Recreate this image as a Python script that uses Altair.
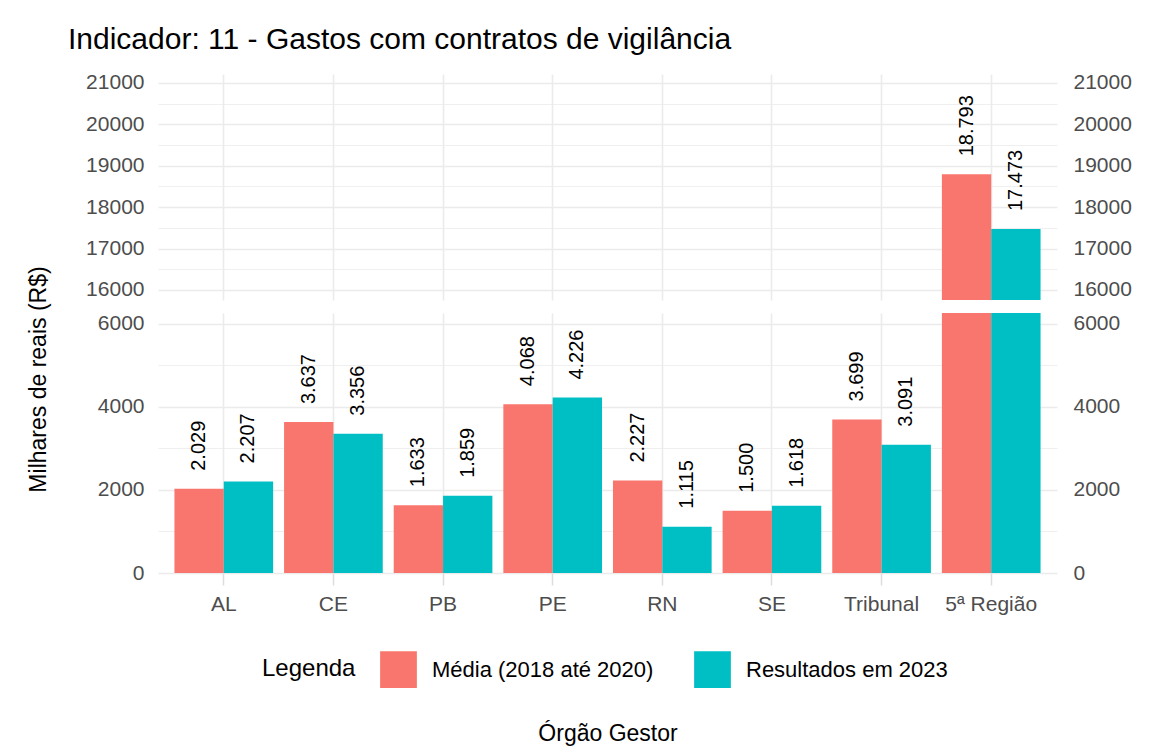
import altair as alt
import pandas as pd

# ---- data ----
categories = ["AL", "CE", "PB", "PE", "RN", "SE", "Tribunal", "5ª Região"]
media_2018_2020 = [2029, 3637, 1633, 4068, 2227, 1500, 3699, 18793]
resultados_2023 = [2207, 3356, 1859, 4226, 1115, 1618, 3091, 17473]
series = ["Média (2018 até 2020)", "Resultados em 2023"]
colors = ["#F8766D", "#00BFC4"]
broken_category = "5ª Região"

top_ticks = list(range(16000, 21001, 500))
bottom_ticks = list(range(0, 6001, 1000))

rows = []
for c, m, r in zip(categories, media_2018_2020, resultados_2023):
    rows.append({"cat": c, "serie": series[0], "valor": m})
    rows.append({"cat": c, "serie": series[1], "valor": r})
df = pd.DataFrame(rows)
df["rotulo"] = df["valor"].map(lambda v: f"{v:,}".replace(",", "."))
df["painel"] = df["cat"].map(lambda c: "alto" if c == broken_category else "baixo")

FONT = "Liberation Sans, Arial, sans-serif"
GRID = "#EBEBEB"
W = 899

xscale = alt.Scale(domain=categories, paddingInner=0.1, paddingOuter=0.15)
color = alt.Color("serie:N", scale=alt.Scale(domain=series, range=colors))


def grid_width(step):
    return {"condition": {"test": f"datum.value % {step} != 0", "value": 0.8}, "value": 1.6}


def label_expr(step):
    return f"datum.value % {step} == 0 ? datum.label : ''"


def panel(domain, ticks, step, height, is_bottom):
    if is_bottom:
        xaxis = alt.Axis(title="Órgão Gestor", labels=True, ticks=True, tickSize=12,
                         tickColor="#DDDDDD", tickWidth=1.5, domain=False, grid=True,
                         bandPosition=0.5, gridColor=GRID, gridWidth=1.6, labelPadding=8,
                         labelAngle=0, titleY=160, titleBaseline="middle",
                         titleFontSize=23, titleFontWeight="normal", titleColor="black")
    else:
        xaxis = alt.Axis(title=None, labels=False, ticks=False, domain=False, grid=True,
                         bandPosition=0.5, gridColor=GRID, gridWidth=1.6)
    left_kwargs = dict(values=ticks, format="d", labelExpr=label_expr(step), grid=True,
                       gridColor=GRID, gridWidth=grid_width(step), ticks=False,
                       domain=False, labelPadding=14, orient="left")
    if is_bottom:
        left_kwargs.update(title="Milhares de reais (R$)", titleX=-108, titleY=66,
                           titleAngle=270, titleAlign="center", titleBaseline="bottom",
                           titleFontSize=23, titleFontWeight="normal", titleColor="black")
    else:
        left_kwargs.update(title=None)
    yscale = alt.Scale(domain=domain, nice=False, zero=False)
    bars = alt.Chart(df).mark_bar(clip=True).encode(
        x=alt.X("cat:N", sort=categories, scale=xscale, axis=xaxis),
        xOffset=alt.XOffset("serie:N", sort=series),
        y=alt.Y("valor:Q", scale=yscale, axis=alt.Axis(**left_kwargs)),
        color=color.legend(
            orient="none", direction="horizontal", titleOrient="left",
            legendX=104, legendY=338, symbolType="square", symbolSize=1350,
            symbolStrokeWidth=0, labelFontSize=22, titleFontSize=24,
            labelFont=FONT, titleFont=FONT, titleFontWeight="normal",
            titleColor="black", labelColor="black", labelOffset=15,
            labelLimit=0, columnPadding=40, titlePadding=24, title="Legenda",
        ) if is_bottom else color.legend(None),
    )
    wanted = "baixo" if is_bottom else "alto"
    texts = alt.Chart(df).transform_filter(
        alt.datum.painel == wanted
    ).mark_text(angle=270, align="left", baseline="middle", dx=18, fontSize=20,
                font=FONT, color="black").encode(
        x=alt.X("cat:N", sort=categories, scale=xscale),
        xOffset=alt.XOffset("serie:N", sort=series),
        y=alt.Y("valor:Q", scale=yscale, axis=alt.Axis(
            values=ticks, format="d", labelExpr=label_expr(step), grid=False,
            ticks=False, domain=False, labelPadding=16, orient="right", title=None)),
        text="rotulo:N",
    )
    return alt.layer(bars, texts).resolve_axis(y="independent").properties(
        width=W, height=height)


top = panel([15758, 21217], top_ticks, 1000, 226, False)
bottom = panel([0, 6265], bottom_ticks, 2000, 260, True)

chart = alt.vconcat(top, bottom, spacing=13, bounds="flush").resolve_legend(
    color="independent"
).properties(
    title=alt.TitleParams("Indicador: 11 - Gastos com contratos de vigilância",
                          anchor="start", fontSize=30, font=FONT, fontWeight="normal",
                          color="black", dx=41, offset=17),
    background="white",
    padding={"left": 19, "top": 16, "right": 10, "bottom": 4},
).configure_view(stroke=None).configure_axis(
    labelFont=FONT, labelFontSize=21, labelColor="#4D4D4D", titleFont=FONT
)

chart.save("out.html", embed_options={"renderer": "svg", "actions": False})
